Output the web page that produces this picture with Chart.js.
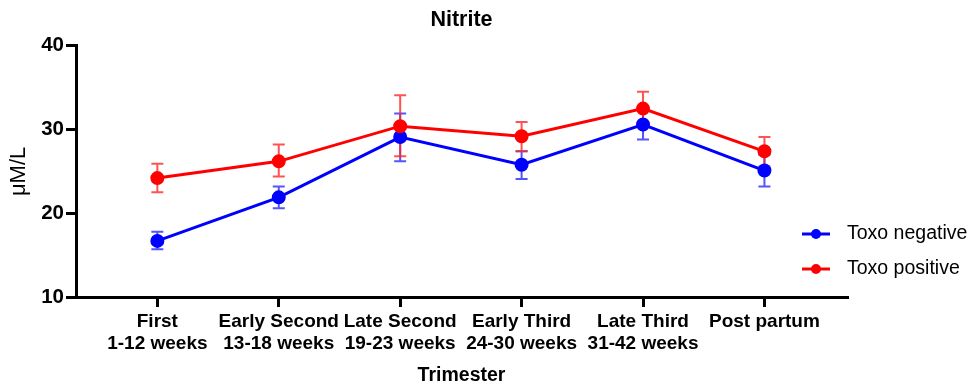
<!DOCTYPE html>
<html>
<head>
<meta charset="utf-8">
<script src="https://cdn.jsdelivr.net/npm/chart.js@4"></script>
<style>
  html, body { margin: 0; padding: 0; background: #fff; }
  #wrap { width: 974px; height: 390px; }
</style>
</head>
<body>
<div id="wrap"><canvas id="nitriteChart"></canvas></div>
<script>
// categories (two-line tick labels)
const trimesters = [
    ["First", "1-12 weeks"],
    ["Early Second", "13-18 weeks"],
    ["Late Second", "19-23 weeks"],
    ["Early Third", "24-30 weeks"],
    ["Late Third", "31-42 weeks"],
    ["Post partum"]
];

// Toxo negative: mean and error bar ends
const negMean  = [16.7, 21.9, 29.1, 25.8, 30.6, 25.1];
const negUpper = [17.8, 23.2, 31.9, 27.4, 32.3, 27.0];
const negLower = [15.7, 20.6, 26.2, 24.1, 28.8, 23.2];

// Toxo positive: mean and error bar ends
const posMean  = [24.2, 26.2, 30.4, 29.2, 32.5, 27.4];
const posUpper = [25.9, 28.2, 34.1, 30.9, 34.5, 29.1];
const posLower = [22.5, 24.4, 26.8, 27.4, 30.4, 25.6];

const yTicks = [10, 20, 30, 40];

const FONT = "'Liberation Sans', Arial, sans-serif";

function points(values) {
    return values.map((v, i) => ({ x: i, y: v }));
}

// draws the error bars under the points, through the chart scales
const errorBars = {
    id: "errorBars",
    beforeDatasetsDraw(chart) {
        const ctx = chart.ctx;
        const xs = chart.scales.x, ys = chart.scales.y;
        chart.data.datasets.forEach(ds => {
            ctx.save();
            ctx.strokeStyle = ds.barColor;
            ctx.lineWidth = 2;
            ds.upper.forEach((u, i) => {
                const x = xs.getPixelForValue(i);
                const yTop = ys.getPixelForValue(u);
                const yBot = ys.getPixelForValue(ds.lower[i]);
                ctx.beginPath();
                ctx.moveTo(x, yTop); ctx.lineTo(x, yBot);
                ctx.moveTo(x - 6, yTop); ctx.lineTo(x + 6, yTop);
                ctx.moveTo(x - 6, yBot); ctx.lineTo(x + 6, yBot);
                ctx.stroke();
            });
            ctx.restore();
        });
    }
};

// legend on the right: line with a dot, then the label
const sideLegend = {
    id: "sideLegend",
    afterDraw(chart) {
        const ctx = chart.ctx;
        const rows = [234, 269];
        chart.data.datasets.forEach((ds, i) => {
            const y = rows[i];
            ctx.save();
            ctx.strokeStyle = ds.borderColor;
            ctx.fillStyle = ds.borderColor;
            ctx.lineWidth = 3;
            ctx.beginPath();
            ctx.moveTo(802, y); ctx.lineTo(830, y);
            ctx.stroke();
            ctx.beginPath();
            ctx.arc(816, y, 5, 0, Math.PI * 2);
            ctx.fill();
            ctx.fillStyle = "#000";
            ctx.font = "19.5px " + FONT;
            ctx.textBaseline = "middle";
            ctx.fillText(ds.label, 847, y);
            ctx.restore();
        });
    }
};

new Chart(document.getElementById("nitriteChart"), {
    type: "line",
    data: {
        datasets: [{
            label: "Toxo negative",
            data: points(negMean),
            upper: negUpper,
            lower: negLower,
            borderColor: "#0000ff",
            backgroundColor: "#0000ff",
            barColor: "rgba(40,40,255,0.8)",
            borderWidth: 3,
            pointRadius: 5.5,
            order: 1
        }, {
            label: "Toxo positive",
            data: points(posMean),
            upper: posUpper,
            lower: posLower,
            borderColor: "#ff0000",
            backgroundColor: "#ff0000",
            barColor: "rgba(255,40,40,0.8)",
            borderWidth: 3,
            pointRadius: 5.5,
            order: 0
        }]
    },
    options: {
        responsive: true,
        maintainAspectRatio: false,
        animation: false,
        layout: { padding: { left: 0, right: 127, top: 0, bottom: 0 } },
        plugins: {
            legend: { display: false },
            tooltip: { enabled: false },
            title: {
                display: true,
                fullSize: false,
                text: "Nitrite",
                color: "#000",
                font: { family: FONT, size: 21.5, weight: "bold" },
                padding: { top: 7, bottom: 13 }
            }
        },
        scales: {
            x: {
                type: "linear",
                min: -0.67,
                max: 5.68,
                afterBuildTicks: scale => {
                    scale.ticks = trimesters.map((_, i) => ({ value: i }));
                },
                afterFit: scale => { scale.height = 93; },
                ticks: {
                    callback: v => trimesters[v],
                    color: "#000",
                    font: { family: FONT, size: 19, weight: "bold", lineHeight: 1.15 },
                    padding: 4,
                    maxRotation: 0,
                    autoSkip: false
                },
                grid: {
                    drawOnChartArea: false,
                    drawTicks: true,
                    tickLength: 10,
                    lineWidth: 3,
                    color: "#000"
                },
                border: { display: true, width: 3, color: "#000" },
                title: {
                    display: true,
                    text: "Trimester",
                    color: "#000",
                    font: { family: FONT, size: 19.5, weight: "bold" },
                    padding: { top: 0, bottom: 3 }
                }
            },
            y: {
                min: 10,
                max: 40,
                afterBuildTicks: scale => {
                    scale.ticks = yTicks.map(v => ({ value: v }));
                },
                afterFit: scale => { scale.width = 76; },
                ticks: {
                    color: "#000",
                    font: { family: FONT, size: 20.5, weight: "bold" },
                    padding: 2
                },
                grid: {
                    drawOnChartArea: false,
                    drawTicks: true,
                    tickLength: 10,
                    lineWidth: 3,
                    color: "#000"
                },
                border: { display: true, width: 3, color: "#000" },
                title: {
                    display: true,
                    text: "μM/L",
                    color: "#000",
                    font: { family: FONT, size: 22 },
                    padding: { top: 6, bottom: 0 }
                }
            }
        }
    },
    plugins: [errorBars, sideLegend]
});
</script>
</body>
</html>
